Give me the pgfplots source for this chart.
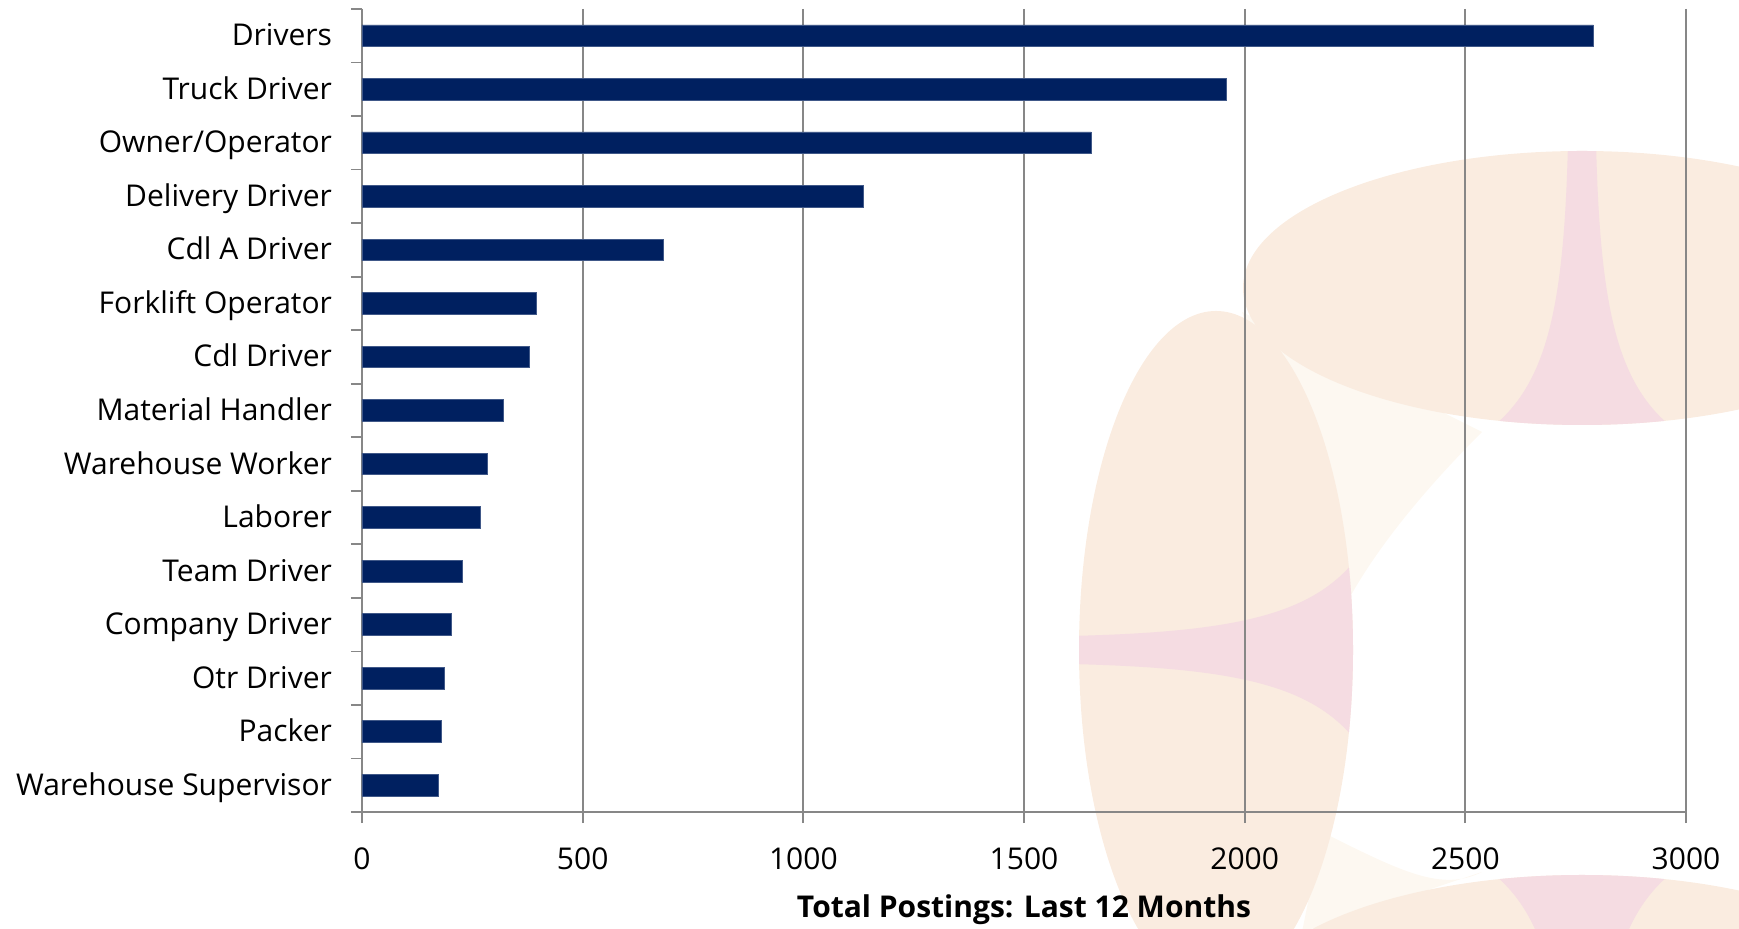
\documentclass[border=0pt]{standalone}
\usepackage{pgfplots}
\pgfplotsset{compat=1.18}
\usepackage{fontspec}
\setmainfont{Open Sans}
\definecolor{barblue}{HTML}{002060}
\definecolor{gridgray}{HTML}{878787}
\definecolor{wmpeach}{RGB}{250,236,224}
\definecolor{wmpink}{RGB}{245,220,226}
\definecolor{wmcream}{RGB}{253,248,241}
\begin{document}
\begin{tikzpicture}
\useasboundingbox (-181pt,-58.5pt) rectangle (688.5pt,406pt);
% faint background watermark (decoration only)
\begin{scope}
  \clip (-181pt,-58.5pt) rectangle (688.5pt,406pt);
  % faint cream wedges between the shapes
  \fill[wmcream] (440pt,250pt) -- (560pt,190pt) .. controls (520pt,150pt) and (500pt,120pt) .. (490pt,100pt) -- cycle;
  \fill[wmcream] (480pt,-10pt) .. controls (520pt,-30pt) and (540pt,-40pt) .. (560pt,-30pt) -- (470pt,-60pt) -- cycle;
  % top ellipse
  \fill[wmpeach] (610pt,262pt) ellipse [x radius=169.5pt, y radius=68.5pt];
  \begin{scope}
    \clip (610pt,262pt) ellipse [x radius=169.5pt, y radius=68.5pt];
    \fill[wmpink] (603pt,335pt) .. controls (601pt,250pt) and (592pt,212pt) .. (562pt,190pt)
      -- (658pt,190pt) .. controls (628pt,212pt) and (619pt,250pt) .. (617pt,335pt) -- cycle;
  \end{scope}
  % left ellipse
  \fill[wmpeach] (427pt,81pt) ellipse [x radius=68.5pt, y radius=169.5pt];
  \begin{scope}
    \clip (427pt,81pt) ellipse [x radius=68.5pt, y radius=169.5pt];
    \fill[wmpink] (354pt,88pt) .. controls (439pt,90pt) and (477pt,99pt) .. (499pt,129pt)
      -- (499pt,33pt) .. controls (477pt,63pt) and (439pt,72pt) .. (354pt,74pt) -- cycle;
  \end{scope}
  % bottom ellipse
  \fill[wmpeach] (610pt,-100pt) ellipse [x radius=169.5pt, y radius=68.5pt];
  \begin{scope}
    \clip (610pt,-100pt) ellipse [x radius=169.5pt, y radius=68.5pt];
    \fill[wmpink] (603pt,-173pt) .. controls (601pt,-88pt) and (592pt,-50pt) .. (562pt,-28pt)
      -- (658pt,-28pt) .. controls (628pt,-50pt) and (619pt,-88pt) .. (617pt,-173pt) -- cycle;
  \end{scope}
\end{scope}
\begin{axis}[
  at={(0,0)}, anchor=south west,
  scale only axis, width=662pt, height=401.5pt,
  xbar, bar width=10.85pt,
  xmin=0, xmax=3000, ymin=-0.5, ymax=14.5, y dir=reverse,
  axis x line*=bottom, axis y line*=left,
  axis line style={gridgray, line width=1pt, -},
  xtick={0,500,...,3000},
  scaled ticks=false,
  /pgf/number format/1000 sep={},
  /pgf/number format/assume math mode=true,
  xmajorgrids, major grid style={gridgray, line width=0.9pt},
  tick align=outside,
  major tick length=5.5pt,
  tick style={gridgray, line width=0.9pt},
  ytick={-0.5,0.5,...,14.5},
  yticklabels={},
  extra y ticks={0,1,...,14},
  extra y tick labels={Drivers,Truck Driver,Owner/Operator,Delivery Driver,Cdl A Driver,Forklift Operator,Cdl Driver,Material Handler,Warehouse Worker,Laborer,Team Driver,Company Driver,Otr Driver,Packer,Warehouse Supervisor},
  extra y tick style={major tick length=0pt, yticklabel style={anchor=east, xshift=-11.5pt, yshift=-1.2pt, text height=10.8pt, text depth=3.2pt}},
  ticklabel style={font=\fontsize{15}{18}\selectfont, text=black},
  xticklabel style={yshift=-9pt},
  xlabel={Total Postings: Last 12 Months},
  xlabel style={at={(rel axis cs:0.5,0)}, anchor=center, yshift=-49pt, font=\fontsize{15}{18}\selectfont\bfseries},
]
\addplot[fill=barblue, draw=barblue!75!white, line width=0.4pt] coordinates {
  (2790,0) (1959,1) (1652,2) (1137,3) (684,4) (396,5) (379,6) (320,7)
  (285,8) (268,9) (227,10) (202,11) (186,12) (181,13) (174,14)
};
\end{axis}
\end{tikzpicture}
\end{document}
